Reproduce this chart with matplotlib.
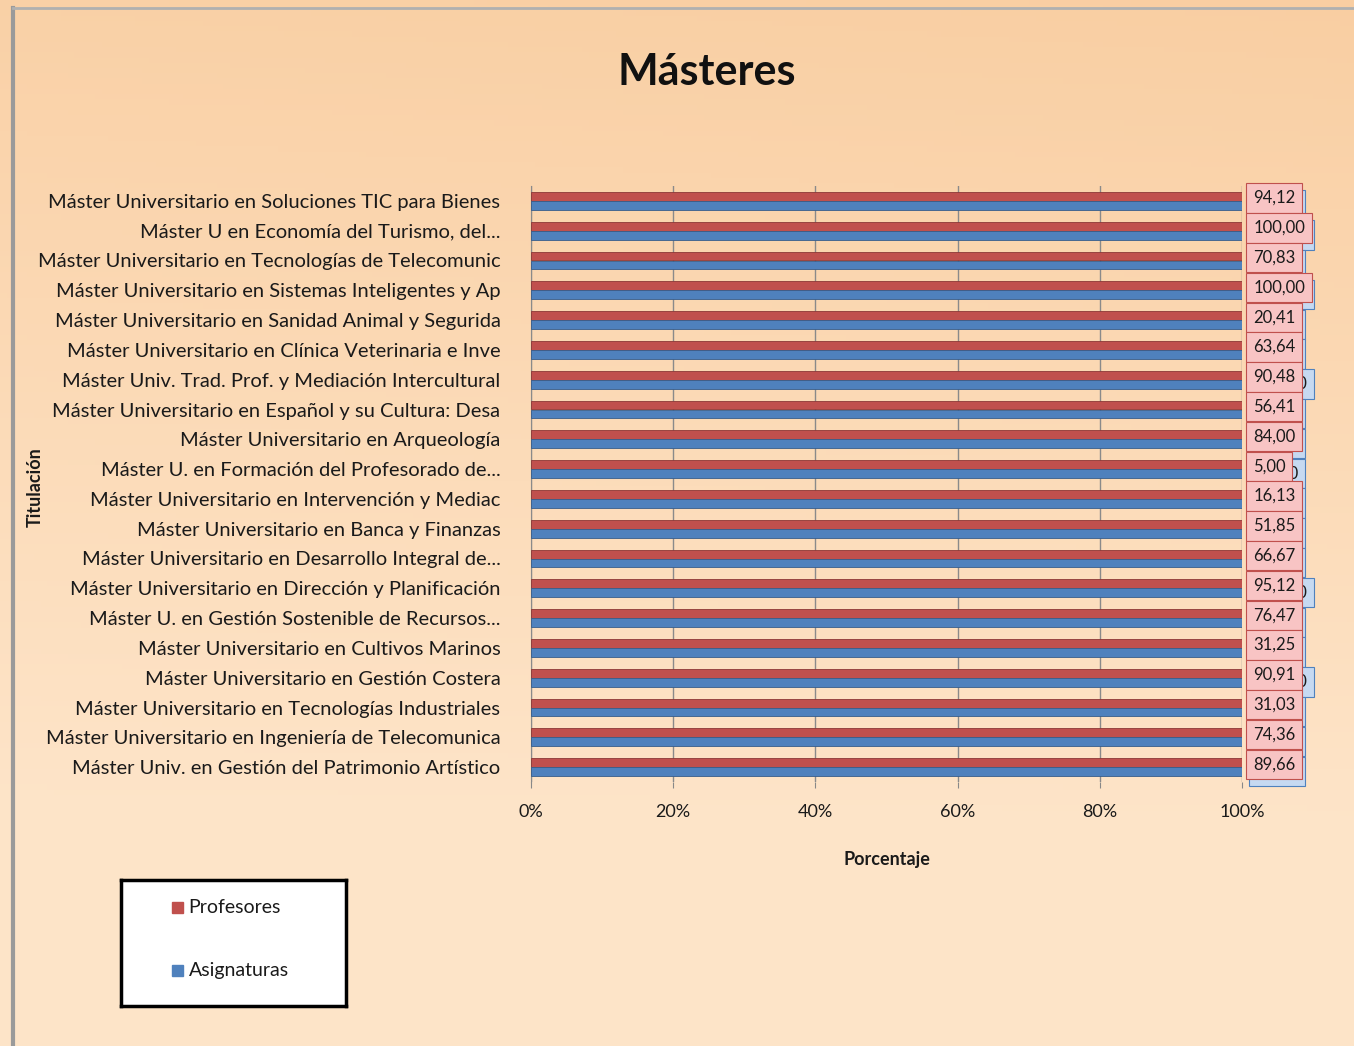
import numpy as np
import matplotlib
matplotlib.use("Agg")
import matplotlib.pyplot as plt
from matplotlib.patches import Rectangle

plt.rcParams['font.family'] = ['Lato', 'DejaVu Sans']

categories = [
    "Máster Universitario en Soluciones TIC para Bienes",
    "Máster U en Economía del Turismo, del...",
    "Máster Universitario en Tecnologías de Telecomunic",
    "Máster Universitario en Sistemas Inteligentes y Ap",
    "Máster Universitario en Sanidad Animal y Segurida",
    "Máster Universitario en Clínica Veterinaria e Inve",
    "Máster Univ. Trad. Prof. y Mediación Intercultural",
    "Máster Universitario en Español y su Cultura: Desa",
    "Máster Universitario en Arqueología",
    "Máster U. en Formación del Profesorado de...",
    "Máster Universitario en Intervención y Mediac",
    "Máster Universitario en Banca y Finanzas",
    "Máster Universitario en Desarrollo Integral de...",
    "Máster Universitario en Dirección y Planificación",
    "Máster U. en Gestión Sostenible de Recursos...",
    "Máster Universitario en Cultivos Marinos",
    "Máster Universitario en Gestión Costera",
    "Máster Universitario en Tecnologías Industriales",
    "Máster Universitario en Ingeniería de Telecomunica",
    "Máster Univ. en Gestión del Patrimonio Artístico",
]
profesores = [94.12, 100.00, 70.83, 100.00, 20.41, 63.64, 90.48, 56.41, 84.00, 5.00,
              16.13, 51.85, 66.67, 95.12, 76.47, 31.25, 90.91, 31.03, 74.36, 89.66]
asignaturas = [88.89, 100.00, 83.33, 100.00, 60.00, 75.00, 100.00, 85.71, 90.00, 25.00,
               50.00, 80.00, 75.00, 100.00, 88.24, 75.00, 100.00, 86.67, 63.16, 90.48]
xticks = [0, 20, 40, 60, 80, 100]

W, H = 1354, 1046
fig = plt.figure(figsize=(W / 100, H / 100), dpi=100)

# background gradient
bg = fig.add_axes([0, 0, 1, 1], zorder=-10)
yy, xx = np.mgrid[0:1:200j, 0:1:200j]
t = np.clip(0.55 * (1 - yy) + 0.25 * (1 - xx) * (1 - yy) + 0.35 * xx * (1 - yy) - 0.25 * yy, 0, 1)
c_light = np.array([0.995, 0.895, 0.785])
c_dark = np.array([0.975, 0.80, 0.62])
img = c_light[None, None, :] * (1 - t[..., None]) + c_dark[None, None, :] * t[..., None]
bg.imshow(img, extent=[0, 1, 0, 1], aspect='auto', origin='upper')
bg.set_xlim(0, 1); bg.set_ylim(0, 1)
bg.axis('off')
bg.plot([13 / W, 13 / W], [0, 1 - 8 / H], color='#9a9a9a', lw=3)
bg.plot([13 / W, 1], [1 - 8 / H, 1 - 8 / H], color='#b0b0b0', lw=2)

ax = fig.add_axes([531 / W, 1 - 782 / H, (1242 - 531) / W, (782 - 186) / H])
ax.set_facecolor('none')
n = len(categories)
pos = np.arange(n)
h = 0.3
full = [100] * n
ax.barh(pos - h / 2, full, height=h, color='#c0504d', edgecolor='#8c3836', lw=0.6, zorder=3)
ax.barh(pos + h / 2, full, height=h, color='#4f81bd', edgecolor='#385d8a', lw=0.6, zorder=3)
ax.set_ylim(n - 0.5, -0.5)
ax.set_xlim(0, 100)
ax.set_yticks(pos)
ax.set_yticklabels(categories, fontsize=14.5, color='#1a1a1a')
ax.set_xticks(xticks)
ax.set_xticklabels([f"{v}%" for v in xticks], fontsize=13, color='#1a1a1a')
ax.tick_params(axis='y', length=0, pad=22)
ax.tick_params(axis='x', length=4, color='#888888', pad=12)
ax.grid(axis='x', color='#8a8a8a', lw=1, zorder=0)
for s in ['top', 'right']:
    ax.spines[s].set_visible(False)
ax.spines['left'].set_color('#8a8a8a')
ax.spines['bottom'].set_visible(False)

def fmt(v):
    return f"{v:.2f}".replace('.', ',')

for i in range(n):
    ax.annotate(fmt(asignaturas[i]), xy=(100, pos[i]), xytext=(10, -3), textcoords='offset points',
                ha='left', va='center', fontsize=12, color='#1a1a1a', zorder=5,
                bbox=dict(boxstyle='square,pad=0.4', fc='#c6d9f1', ec='#4f81bd', lw=0.8))
for i in range(n):
    ax.annotate(fmt(profesores[i]), xy=(100, pos[i]), xytext=(8, 2), textcoords='offset points',
                ha='left', va='center', fontsize=12, color='#1a1a1a', zorder=6,
                bbox=dict(boxstyle='square,pad=0.4', fc='#f8c4c4', ec='#c0504d', lw=0.8))

ax.set_xlabel("Porcentaje", fontsize=13, fontweight='bold', labelpad=22, color='#1a1a1a')
fig.text(35 / W, 1 - 487 / H, "Titulación", rotation=90, ha='center', va='center',
         fontsize=13, fontweight='bold', color='#1a1a1a')
fig.text(707 / W, 1 - 72 / H, "Másteres", ha='center', va='center', fontsize=31,
         fontweight='bold', color='#111111')

# legend
lg = fig.add_axes([121 / W, 1 - 1006 / H, (346 - 121) / W, (1006 - 880) / H])
lg.set_xlim(0, 1); lg.set_ylim(0, 1)
lg.set_xticks([]); lg.set_yticks([])
lg.set_facecolor('white')
for s in lg.spines.values():
    s.set_linewidth(2.5); s.set_color('black')
lg.add_patch(Rectangle((0.225, 0.735), 0.05, 0.09, color='#c0504d'))
lg.text(0.3, 0.78, "Profesores", va='center', fontsize=14, color='#1a1a1a')
lg.add_patch(Rectangle((0.225, 0.235), 0.05, 0.09, color='#4f81bd'))
lg.text(0.3, 0.28, "Asignaturas", va='center', fontsize=14, color='#1a1a1a')

fig.savefig("out.png", dpi=100)
